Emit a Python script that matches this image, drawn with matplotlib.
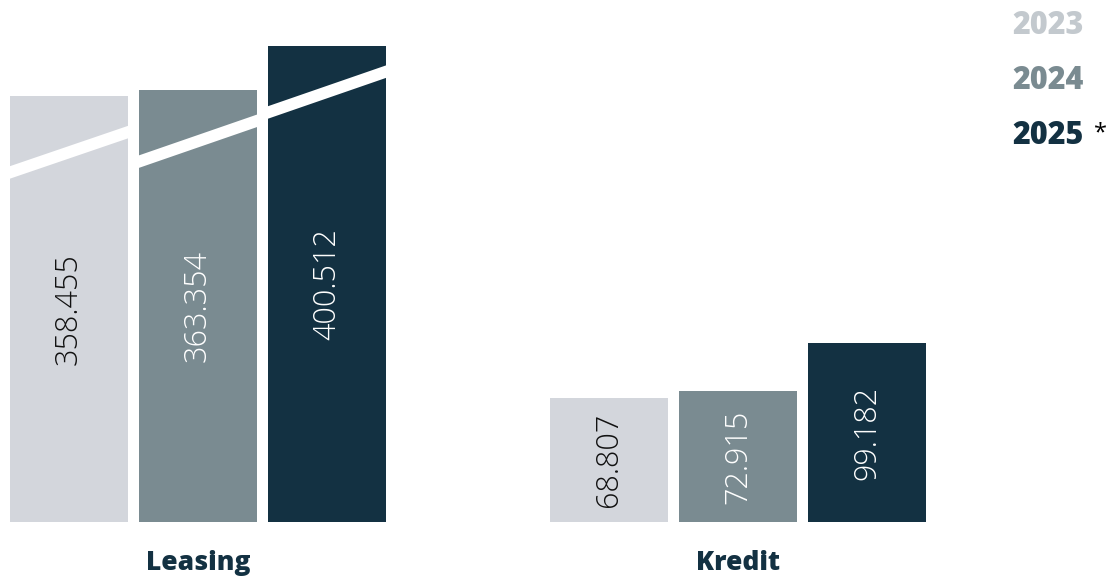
import matplotlib
matplotlib.use("Agg")
import matplotlib.pyplot as plt
from matplotlib.patches import Polygon
from matplotlib.transforms import IdentityTransform

categories = ["Leasing", "Kredit"]
years = ["2023", "2024", "2025"]
leasing_values = [358.455, 363.354, 400.512]
kredit_values = [68.807, 72.915, 99.182]
value_labels_leasing = ["358.455", "363.354", "400.512"]
value_labels_kredit = ["68.807", "72.915", "99.182"]

bar_colors = ["#d3d6dc", "#7a8b91", "#133142"]
legend_colors = ["#c3c9ce", "#7a8b91", "#133142"]
text_colors = ["#111111", "white", "white"]
dark = "#133142"

W, H, DPI = 1107, 580, 100
fig = plt.figure(figsize=(W / DPI, H / DPI), dpi=DPI)
bottom_px = 58
pos = [0, bottom_px / H, 1, (H - bottom_px) / H]
ax_l = fig.add_axes(pos)
ax_k = fig.add_axes(pos)
for ax in (ax_l, ax_k):
    ax.set_axis_off()
    ax.set_xlim(-0.3667, 1.683)
ax_l.set_ylim(0, 439)
ax_k.set_ylim(0, 290)

width = 0.2185
step = 0.239
offsets = [-step, 0, step]
VFONT = "Open Sans"
BFONT = "Open Sans"

def draw_group(ax, center, values, labels):
    bars = []
    for i, (v, lab) in enumerate(zip(values, labels)):
        b = ax.bar(center + offsets[i], v, width=width, color=bar_colors[i],
                   linewidth=0)[0]
        bars.append(b)
        ax.text(center + offsets[i], v / 2, lab, rotation=90, ha="center",
                va="center", fontsize=22, color=text_colors[i],
                family=VFONT, fontweight="light")
    return bars

lbars = draw_group(ax_l, 0, leasing_values, value_labels_leasing)
kbars = draw_group(ax_k, 1, kredit_values, value_labels_kredit)

# break marks on leasing bars (white diagonal bands), offsets in px below bar top
fig.canvas.draw()
break_left = [77, 72, 67]
break_right = [36, 30.5, 25.5]
thick = 12.5
for b, v, lo, ro in zip(lbars, leasing_values, break_left, break_right):
    x0d, topd = ax_l.transData.transform((b.get_x(), v))
    x1d, _ = ax_l.transData.transform((b.get_x() + b.get_width(), v))
    x0d -= 1; x1d += 1
    yl = topd - lo
    yr = topd - ro
    poly = Polygon([(x0d, yl + thick / 2), (x1d, yr + thick / 2),
                    (x1d, yr - thick / 2), (x0d, yl - thick / 2)],
                   closed=True, facecolor="white", edgecolor="none",
                   transform=IdentityTransform(), zorder=5)
    fig.add_artist(poly)

# category labels
for i, c in enumerate(categories):
    fig.text((ax_k.transData.transform((i, 0))[0]) / W, 1 - 563 / H, c,
             ha="center", va="center", fontsize=19, fontweight="heavy",
             color=dark, family=BFONT)

# legend
leg_y = [26, 81, 136]
for yr_, col, y in zip(years, legend_colors, leg_y):
    fig.text(1084 / W, 1 - y / H, yr_, ha="right", va="center", fontsize=22,
             fontweight="heavy", color=col, family=BFONT)
fig.text(1094 / W, 1 - 133 / H, "*", ha="left", va="center", fontsize=17,
         color="black", family=BFONT)

fig.savefig("out.png", dpi=DPI)
